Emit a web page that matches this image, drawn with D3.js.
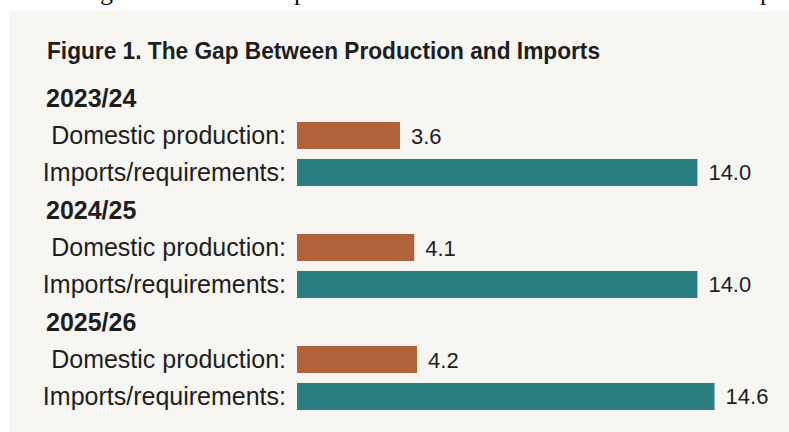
<!DOCTYPE html>
<html lang="en">
<head>
<meta charset="UTF-8">
<title>Figure 1. The Gap Between Production and Imports</title>
<script src="https://cdn.jsdelivr.net/npm/d3@7/dist/d3.min.js"></script>
<style>
    html, body { margin: 0; padding: 0; background: #fff; }
    svg text { font-family: "Liberation Sans", Arial, sans-serif; fill: #1e1e1e; }
    .frag { font-family: "Liberation Serif", "DejaVu Serif", serif; fill: #111; }
    .title { font-weight: bold; font-size: 23px; }
    .year { font-weight: bold; font-size: 25px; }
    .label { font-size: 25px; }
    .value { font-size: 22px; }
    .bar-dom { fill: #b0623a; }
    .bar-imp { fill: #2b7f80; }
</style>
</head>
<body>
<div id="chart"></div>
<script>
"use strict";

var title = "Figure 1. The Gap Between Production and Imports";
var years = ["2023/24", "2024/25", "2025/26"];
var series = ["Domestic production:", "Imports/requirements:"];
var domestic = [3.6, 4.1, 4.2];
var imports = [14.0, 14.0, 14.6];

// descenders of the line of text above the figure, cut off by the crop
var topFragments = [
    { t: "g", x: 100 },
    { t: "p", x: 294 },
    { t: "p", x: 760 }
];

var width = 789, height = 432;

var svg = d3.select("#chart").append("svg")
    .attr("width", width)
    .attr("height", height);

// panel
svg.append("rect")
    .attr("x", 9).attr("y", 11)
    .attr("width", width - 9).attr("height", height - 11)
    .attr("fill", "#f8f6f2");

svg.selectAll("text.frag").data(topFragments).enter().append("text")
    .attr("class", "frag")
    .attr("x", function(d) { return d.x; })
    .attr("y", 0)
    .style("font-size", "26px")
    .text(function(d) { return d.t; });

svg.append("text")
    .attr("class", "title")
    .attr("x", 47).attr("y", 59)
    .attr("textLength", 553)
    .attr("lengthAdjust", "spacingAndGlyphs")
    .text(title);

var rows = years.map(function(y, i) {
    return { year: y, values: [domestic[i], imports[i]] };
});

var yGroup = d3.scaleBand().domain(years).range([88, 88 + 112 * years.length]);
var yBar = d3.scaleBand().domain(series).range([34, 98]).paddingInner(0.27);
var x = d3.scaleLinear().domain([0, 15]).range([297, 297 + 15 * 28.6]);

var groups = svg.selectAll("g.group").data(rows).enter().append("g")
    .attr("class", "group")
    .attr("transform", function(d) { return "translate(0," + yGroup(d.year) + ")"; });

groups.append("text")
    .attr("class", "year")
    .attr("x", 46).attr("y", 19)
    .text(function(d) { return d.year; });

var items = groups.selectAll("g.item")
    .data(function(d) {
        return series.map(function(s, j) { return { name: s, value: d.values[j], j: j }; });
    })
    .enter().append("g")
    .attr("class", "item")
    .attr("transform", function(d) { return "translate(0," + yBar(d.name) + ")"; });

var bh = yBar.bandwidth();

items.append("text")
    .attr("class", "label")
    .attr("x", 286)
    .attr("y", bh / 2 + 8.5)
    .attr("text-anchor", "end")
    .text(function(d) { return d.name; });

items.append("rect")
    .attr("class", function(d) { return d.j === 0 ? "bar-dom" : "bar-imp"; })
    .attr("x", x(0))
    .attr("y", 0)
    .attr("width", function(d) { return x(d.value) - x(0); })
    .attr("height", bh);

items.append("text")
    .attr("class", "value")
    .attr("x", function(d) { return x(d.value) + 11; })
    .attr("y", bh / 2 + 8)
    .text(function(d) { return d3.format(".1f")(d.value); });
</script>
</body>
</html>
